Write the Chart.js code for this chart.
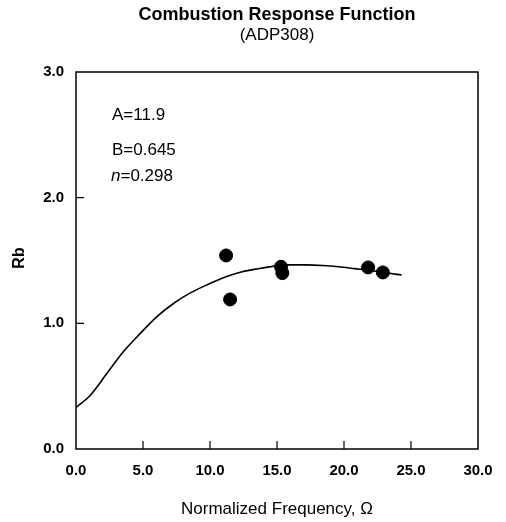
<!DOCTYPE html>
<html lang="en">
<head>
  <meta charset="UTF-8">
  <title>Combustion Response Function</title>
  <script src="https://cdn.jsdelivr.net/npm/chart.js"></script>
  <style>
    html, body { margin: 0; padding: 0; background: #fff; }
  </style>
</head>
<body>
  <canvas id="rbChart" width="506" height="522"></canvas>

  <script>
    // measured points (normalized frequency vs Rb)
    const measFreq = [11.2, 11.5, 15.3, 15.4, 21.8, 22.9];
    const measRb = [1.54, 1.19, 1.45, 1.40, 1.445, 1.405];

    // fitted curve
    const fitFreq = [0, 1.0, 2.3, 3.5, 4.8, 6.0, 7.3, 8.5, 9.75, 11.2, 12.4, 13.6, 14.8, 16.0, 17.2, 18.4, 19.6, 20.8, 22.0, 23.2, 24.3];
    const fitRb = [0.33, 0.42, 0.60, 0.77, 0.92, 1.05, 1.16, 1.24, 1.305, 1.37, 1.41, 1.435, 1.455, 1.465, 1.465, 1.46, 1.45, 1.435, 1.42, 1.40, 1.385];

    const xTicks = [0, 5, 10, 15, 20, 25, 30];
    const yTicks = [0, 1, 2, 3];

    const notes = ['A=11.9', 'B=0.645', 'n=0.298'];

    const fitPoints = fitFreq.map((f, i) => ({ x: f, y: fitRb[i] }));
    const measPoints = measFreq.map((f, i) => ({ x: f, y: measRb[i] }));

    const frame = {
      id: 'frame',
      afterDraw(chart) {
        const ctx = chart.ctx;
        const a = chart.chartArea;
        const xs = chart.scales.x;
        const ys = chart.scales.y;
        ctx.save();
        ctx.strokeStyle = '#000';
        ctx.lineWidth = 1.5;
        ctx.strokeRect(a.left, a.top, a.right - a.left, a.bottom - a.top);

        // inner ticks
        ctx.lineWidth = 1.2;
        ctx.beginPath();
        xTicks.slice(1, -1).forEach(v => {
          const px = xs.getPixelForValue(v);
          ctx.moveTo(px, a.bottom);
          ctx.lineTo(px, a.bottom - 8);
        });
        yTicks.slice(1, -1).forEach(v => {
          const py = ys.getPixelForValue(v);
          ctx.moveTo(a.left, py);
          ctx.lineTo(a.left + 8, py);
        });
        ctx.stroke();

        ctx.fillStyle = '#000';
        ctx.textAlign = 'center';
        ctx.textBaseline = 'middle';
        const cx = (a.left + a.right) / 2;
        ctx.font = 'bold 18px Arial';
        ctx.fillText('Combustion Response Function', cx, 15);
        ctx.font = '17px Arial';
        ctx.fillText('(ADP308)', cx, 35);

        ctx.font = '17px Arial';
        ctx.fillText('Normalized Frequency, \u03A9', cx, 509);

        ctx.save();
        ctx.translate(20, 258);
        ctx.rotate(-Math.PI / 2);
        ctx.font = 'bold 16px Arial';
        ctx.fillText('Rb', 0, 0);
        ctx.restore();

        // parameter notes
        ctx.textAlign = 'left';
        ctx.font = '17px Arial';
        ctx.fillText(notes[0], 112, 115);
        ctx.fillText(notes[1], 112, 150);
        const nPart = notes[2].slice(0, 1);
        ctx.font = 'italic 17px Arial';
        ctx.fillText(nPart, 111, 176);
        const w = ctx.measureText(nPart).width;
        ctx.font = '17px Arial';
        ctx.fillText(notes[2].slice(1), 111 + w, 176);
        ctx.restore();
      }
    };

    const config = {
      type: 'scatter',
      data: {
        datasets: [
          {
            label: 'fit',
            data: fitPoints,
            showLine: true,
            borderColor: '#000',
            borderWidth: 1.6,
            pointRadius: 0,
            tension: 0.4,
            cubicInterpolationMode: 'monotone'
          },
          {
            label: 'measured',
            data: measPoints,
            backgroundColor: '#000',
            borderColor: '#000',
            pointRadius: 6.5
          }
        ]
      },
      options: {
        responsive: false,
        animation: false,
        layout: { padding: { top: 72, right: 28, bottom: 0, left: 0 } },
        plugins: {
          legend: { display: false },
          tooltip: { enabled: false }
        },
        scales: {
          x: {
            type: 'linear',
            min: 0,
            max: 30,
            afterBuildTicks: s => { s.ticks = xTicks.map(v => ({ value: v })); },
            afterFit: s => { s.height = 73; },
            grid: { display: true, drawOnChartArea: false, drawTicks: false },
            border: { display: false },
            ticks: {
              color: '#000',
              padding: 13,
              font: { family: 'Arial', size: 15, weight: 'bold' },
              callback: v => v.toFixed(1)
            }
          },
          y: {
            type: 'linear',
            min: 0,
            max: 3,
            afterBuildTicks: s => { s.ticks = yTicks.map(v => ({ value: v })); },
            afterFit: s => { s.width = 76; },
            grid: { display: true, drawOnChartArea: false, drawTicks: false },
            border: { display: false },
            ticks: {
              color: '#000',
              padding: 12,
              font: { family: 'Arial', size: 15, weight: 'bold' },
              callback: v => v.toFixed(1)
            }
          }
        }
      },
      plugins: [frame]
    };

    new Chart(document.getElementById('rbChart'), config);
  </script>
</body>
</html>
